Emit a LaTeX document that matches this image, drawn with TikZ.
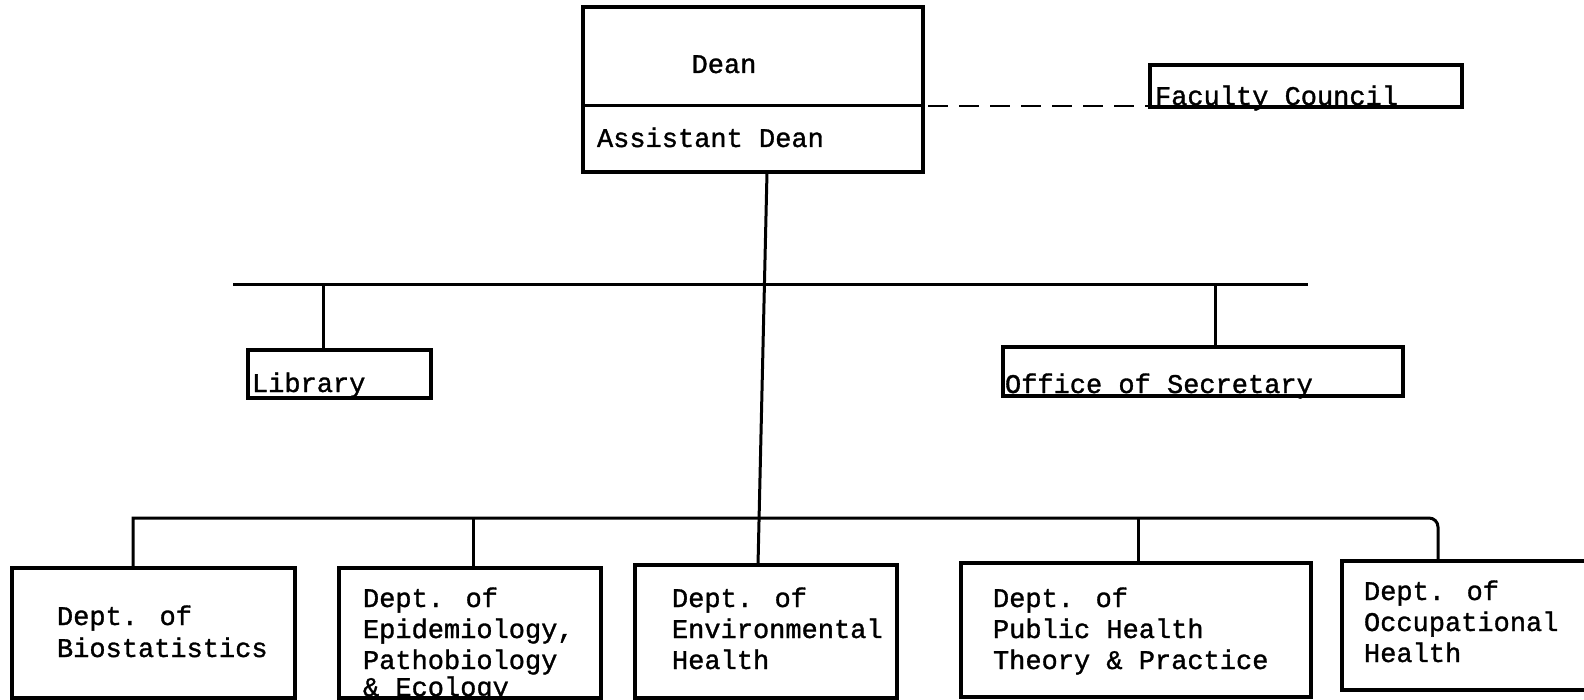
\documentclass[tikz,border=0pt]{standalone}
\usepackage{fontspec}
\newfontfamily\typewriter[FakeBold=1.2]{Liberation Mono}
% left-aligned stack of lines whose baseline is that of the first line
\newcommand\linestack[1]{\begin{tabular}[t]{@{}l@{}}#1\end{tabular}}
\begin{document}
\begin{tikzpicture}[x=1pt,y=-1pt,
  box/.style={draw, line width=3.2pt, inner sep=0pt, outer sep=0pt},
  txt/.style={inner sep=0pt, outer sep=0pt, anchor=base west,
              font=\typewriter\fontsize{27pt}{31pt}\selectfont},
  link/.style={line width=3pt},
]
\useasboundingbox (0,0) rectangle (1584,700);

% ---- boxes ----
\node[box, minimum width=340pt, minimum height=165pt] (dean) at (753,89.5) {};
\node[box, minimum width=312pt, minimum height=42pt]  (fac)  at (1306,86) {};
\node[box, minimum width=183pt, minimum height=48pt]  (lib)  at (339.5,374) {};
\node[box, minimum width=400pt, minimum height=49pt]  (sec)  at (1203,371.5) {};
\node[box, minimum width=283pt, minimum height=130pt] (bio)  at (153.5,633) {};
\node[box, minimum width=262pt, minimum height=130pt] (epi)  at (470,633) {};
\node[box, minimum width=262pt, minimum height=133pt] (env)  at (766,631.5) {};
\node[box, minimum width=350pt, minimum height=134pt] (pub)  at (1136,630) {};
\node[box, minimum width=258pt, minimum height=129pt] (occ)  at (1471,625.5) {};

% divider between Dean and Assistant Dean
\coordinate (dean-div) at (0,106);
\draw[link] (dean.west |- dean-div) -- (dean.east |- dean-div);

% ---- texts ----
\node[txt, anchor=base] (t-dean) at (724,73) {Dean};
\node[txt] (t-adean) at (597,147) {Assistant Dean};
\node[txt] (t-fac) at (1155,105) {Faculty Council};
\node[txt] (t-lib) at (252,392) {Library};
\node[txt] (t-sec) at (1005,393) {Office of Secretary};
\node[txt] (t-bio) at (57,625) {\linestack{Dept. of\\[1pt]Biostatistics}};
\node[txt] (t-epi) at (363,607) {\linestack{Dept. of\\Epidemiology,\\Pathobiology\\[-4pt]\& Ecology}};
\node[txt] (t-env) at (672,607) {\linestack{Dept. of\\Environmental\\Health}};
\node[txt] (t-pub) at (993,607) {\linestack{Dept. of\\Public Health\\Theory \& Practice}};
\node[txt] (t-occ) at (1364,600) {\linestack{Dept. of\\Occupational\\Health}};

% ---- connectors ----
% advisory link to the Faculty Council
\coordinate (adv) at (923,106);
\draw[line width=2.8pt, dash pattern=on 20pt off 11pt, dash phase=26pt]
  (adv) -- (adv -| fac.west);

% trunk from the Dean down to the departments
\coordinate (trunk-top) at (767,0);
\coordinate (trunk-bot) at (758,0);
\draw[link] (trunk-top |- dean.south) -- (trunk-bot |- env.north);

% staff bus
\coordinate (ub-w) at (233,285);
\coordinate (ub-e) at (1308,285);
\draw[link] (ub-w) -- (ub-e);
\coordinate (lib-tap) at (323,285);
\coordinate (sec-tap) at (1215,285);
\draw[link] (lib-tap) -- (lib-tap |- lib.north);
\draw[link] (sec-tap) -- (sec-tap |- sec.north);

% department bus
\coordinate (lb-w) at (133,518);
\coordinate (lb-e) at (1438,518);
\draw[link] (lb-w |- bio.north) -- (lb-w) [rounded corners=9pt] -- (lb-e) -- (lb-e |- occ.north);
\coordinate (epi-tap) at (473,518);
\coordinate (pub-tap) at (1138,518);
\draw[link] (epi-tap) -- (epi-tap |- epi.north);
\draw[link] (pub-tap) -- (pub-tap |- pub.north);
\end{tikzpicture}
\end{document}
